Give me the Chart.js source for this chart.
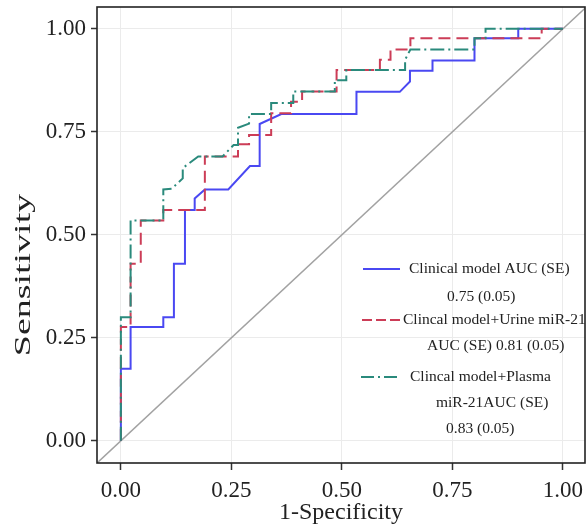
<!DOCTYPE html>
<html>
<head>
<meta charset="utf-8">
<script src="https://cdn.jsdelivr.net/npm/chart.js@4.4.1/dist/chart.umd.min.js"></script>
<style>
html,body{margin:0;padding:0;background:#fff;}
canvas{display:block;}
</style>
</head>
<body>
<canvas id="c" width="588" height="524"></canvas>
<script>
// ---- data ----
const xTicks = [0, 0.25, 0.5, 0.75, 1];
const yTicks = [0, 0.25, 0.5, 0.75, 1];
const xTickLabels = ['0.00', '0.25', '0.50', '0.75', '1.00'];
const yTickLabels = ['0.00', '0.25', '0.50', '0.75', '1.00'];

const clinicalFpr = [0,0,0.022,0.022,0.096,0.096,0.12,0.12,0.145,0.145,0.167,0.167,0.19,0.243,0.292,0.314,0.314,0.363,0.533,0.533,0.631,0.654,0.654,0.705,0.705,0.80,0.80,0.899,0.899,1];
const clinicalTpr = [0,0.175,0.175,0.276,0.276,0.30,0.30,0.43,0.43,0.56,0.56,0.588,0.61,0.61,0.667,0.667,0.769,0.793,0.793,0.847,0.847,0.872,0.898,0.898,0.923,0.923,0.977,0.977,1,1];

const urineFpr = [0,0,0.022,0.022,0.045,0.045,0.096,0.096,0.19,0.19,0.265,0.265,0.29,0.29,0.34,0.34,0.385,0.385,0.41,0.41,0.488,0.488,0.586,0.586,0.61,0.61,0.655,0.655,0.952,0.952,1];
const urineTpr = [0,0.276,0.276,0.43,0.43,0.535,0.535,0.56,0.56,0.69,0.69,0.72,0.72,0.742,0.742,0.795,0.795,0.823,0.823,0.848,0.848,0.90,0.90,0.925,0.925,0.95,0.95,0.977,0.977,1,1];

const plasmaFpr = [0,0,0.022,0.022,0.096,0.096,0.115,0.14,0.14,0.175,0.23,0.255,0.265,0.265,0.29,0.29,0.34,0.34,0.39,0.39,0.484,0.484,0.51,0.51,0.643,0.643,0.655,0.80,0.80,0.825,0.825,1];
const plasmaTpr = [0,0.30,0.30,0.535,0.535,0.61,0.612,0.637,0.662,0.69,0.69,0.718,0.718,0.76,0.77,0.793,0.793,0.82,0.82,0.848,0.848,0.875,0.875,0.90,0.90,0.925,0.95,0.95,0.977,0.977,1,1];

const refX = [-0.054, 1.053];
const refY = [-0.054, 1.053];

const legendLines = [
  ['Clinical model AUC (SE)', '0.75 (0.05)'],
  ['Clincal model+Urine miR-21', 'AUC (SE) 0.81 (0.05)'],
  ['Clincal model+Plasma', 'miR-21AUC (SE)', '0.83 (0.05)']
];
const xTitle = '1-Specificity';
const yTitle = 'Sensitivity';

// ---- styles ----
const SERIF = "'Liberation Serif', 'DejaVu Serif', serif";
const BLUE = '#4a48f2';
const RED = '#cc3d57';
const TEAL = '#2a8a7c';
const GREY = '#a2a2a2';
const TXT = '#222222';

const pts = (xs, ys) => xs.map((x, i) => ({x: x, y: ys[i]}));

const frame = {
  id: 'frame',
  afterDatasetsDraw(chart) {
    const a = chart.chartArea, ctx = chart.ctx;
    ctx.save();
    ctx.strokeStyle = '#222';
    ctx.lineWidth = 1.6;
    ctx.strokeRect(a.left, a.top, a.right - a.left, a.bottom - a.top);
    ctx.restore();
  },
  afterDraw(chart) {
    const ctx = chart.ctx;
    ctx.save();
    // y-axis title (stretched along its length as in the reference)
    ctx.fillStyle = TXT;
    ctx.font = "23px " + SERIF;
    ctx.textAlign = 'center';
    ctx.textBaseline = 'middle';
    ctx.translate(24, 275);
    ctx.rotate(-Math.PI / 2);
    ctx.scale(1.65, 1);
    ctx.fillText(yTitle, 0, 0);
    ctx.restore();

    // legend
    ctx.save();
    ctx.lineWidth = 2;
    const samples = [
      {color: BLUE, dash: [], x0: 363, x1: 400, y: 269},
      {color: RED, dash: [10, 4], x0: 362, x1: 400, y: 320},
      {color: TEAL, dash: [13, 4, 2, 4], x0: 361, x1: 400, y: 377}
    ];
    samples.forEach(s => {
      ctx.strokeStyle = s.color;
      ctx.setLineDash(s.dash);
      ctx.beginPath();
      ctx.moveTo(s.x0, s.y);
      ctx.lineTo(s.x1, s.y);
      ctx.stroke();
    });
    ctx.setLineDash([]);
    ctx.fillStyle = TXT;
    ctx.font = "15.5px " + SERIF;
    ctx.textAlign = 'left';
    ctx.textBaseline = 'middle';
    const pos = [
      [[409, 269], [447, 297]],
      [[403, 320], [427, 346]],
      [[410, 377], [436, 403], [446, 429]]
    ];
    legendLines.forEach((lines, i) => {
      lines.forEach((t, j) => ctx.fillText(t, pos[i][j][0], pos[i][j][1]));
    });
    ctx.restore();
  }
};

new Chart(document.getElementById('c'), {
  type: 'line',
  data: {
    datasets: [
      {label: 'Clinical model AUC (SE) 0.75 (0.05)', data: pts(clinicalFpr, clinicalTpr), borderColor: BLUE, borderWidth: 2, order: 2},
      {label: 'Clincal model+Urine miR-21 AUC (SE) 0.81 (0.05)', data: pts(urineFpr, urineTpr), borderColor: RED, borderWidth: 2, borderDash: [12, 6], order: 1},
      {label: 'Clincal model+Plasma miR-21AUC (SE) 0.83 (0.05)', data: pts(plasmaFpr, plasmaTpr), borderColor: TEAL, borderWidth: 2, borderDash: [14, 4, 2, 4], order: 0},
      {label: 'reference', data: pts(refX, refY), borderColor: GREY, borderWidth: 1.6, order: 3}
    ]
  },
  options: {
    responsive: false,
    animation: false,
    parsing: true,
    elements: {point: {radius: 0}, line: {tension: 0, fill: false}},
    layout: {padding: {top: 7, right: 3, left: 0, bottom: 0}},
    plugins: {legend: {display: false}, tooltip: {enabled: false}},
    scales: {
      x: {
        type: 'linear', min: -0.054, max: 1.05,
        afterBuildTicks: s => { s.ticks = xTicks.map(v => ({value: v})); },
        afterFit: s => { s.height = 61; s.paddingLeft = 0; s.paddingRight = 0; },
        ticks: {callback: (v, i) => xTickLabels[i], color: TXT, font: {family: SERIF, size: 23}, padding: 7, maxRotation: 0},
        grid: {color: '#ebebeb', lineWidth: 1, tickColor: '#333', tickLength: 7, tickWidth: 1.5},
        border: {display: false},
        title: {display: true, text: xTitle, color: TXT, font: {family: SERIF, size: 24}, padding: {top: 0, bottom: -3}}
      },
      y: {
        type: 'linear', min: -0.054, max: 1.053,
        afterBuildTicks: s => { s.ticks = yTicks.map(v => ({value: v})); },
        afterFit: s => { s.width = 97; s.paddingTop = 0; s.paddingBottom = 0; },
        ticks: {callback: (v, i) => yTickLabels[i], color: TXT, font: {family: SERIF, size: 23}, padding: 5},
        grid: {color: '#ebebeb', lineWidth: 1, tickColor: '#333', tickLength: 6, tickWidth: 1.5},
        border: {display: false}
      }
    }
  },
  plugins: [frame]
});
</script>
</body>
</html>
